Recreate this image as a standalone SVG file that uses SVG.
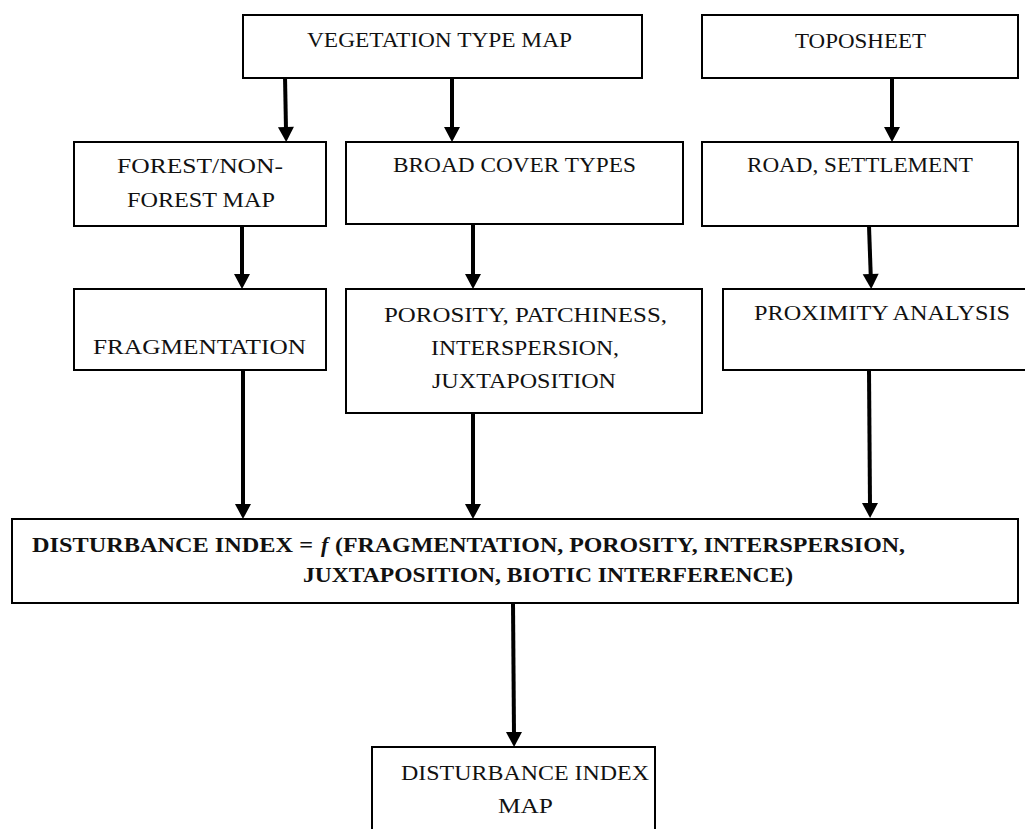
<svg xmlns="http://www.w3.org/2000/svg" width="1025" height="829" viewBox="0 0 1025 829">
<style>
.box{fill:#fff;stroke:#000;stroke-width:2}
.t{font-family:"Liberation Serif","Times New Roman",serif;font-size:21px;fill:#111}
.b{font-family:"Liberation Serif","Times New Roman",serif;font-size:22px;font-weight:bold;fill:#111}
.c{stroke:#000;stroke-width:4;fill:none;marker-end:url(#ah)}
</style>
<defs>
<marker id="ah" markerUnits="userSpaceOnUse" markerWidth="16" markerHeight="17" viewBox="0 -8.5 16 17" refX="3" refY="0" orient="auto" overflow="visible">
<path d="M0,-8 L15,0 L0,8 Z" fill="#000"/>
</marker>
</defs>
<rect width="1025" height="829" fill="#fff"/>
<g id="connectors">
<line class="c" x1="285" y1="76" x2="286" y2="130"/>
<line class="c" x1="452" y1="78" x2="452" y2="130"/>
<line class="c" x1="892" y1="78" x2="892" y2="130"/>
<line class="c" x1="242" y1="226" x2="242" y2="277"/>
<line class="c" x1="473" y1="224" x2="473" y2="277"/>
<line class="c" x1="869" y1="226" x2="870.8" y2="277"/>
<line class="c" x1="243" y1="370" x2="243" y2="507"/>
<line class="c" x1="473" y1="413" x2="473" y2="507"/>
<line class="c" x1="869" y1="370" x2="870" y2="506"/>
<line class="c" x1="513" y1="603" x2="514" y2="735"/>
</g>
<g id="veg">
<rect class="box" x="243" y="15" width="399" height="63"/>
<text class="t" x="307" y="47" textLength="265" lengthAdjust="spacingAndGlyphs">VEGETATION TYPE MAP</text>
</g>
<g id="topo">
<rect class="box" x="702" y="15" width="316" height="63"/>
<text class="t" x="795" y="48" textLength="131" lengthAdjust="spacingAndGlyphs">TOPOSHEET</text>
</g>
<g id="forest">
<rect class="box" x="74" y="142" width="252" height="84"/>
<text class="t" x="117" y="173" textLength="166" lengthAdjust="spacingAndGlyphs">FOREST/NON-</text>
<text class="t" x="127" y="207" textLength="148" lengthAdjust="spacingAndGlyphs">FOREST MAP</text>
</g>
<g id="broad">
<rect class="box" x="346" y="142" width="337" height="82"/>
<text class="t" x="393" y="172" textLength="243" lengthAdjust="spacingAndGlyphs">BROAD COVER TYPES</text>
</g>
<g id="road">
<rect class="box" x="702" y="142" width="316" height="84"/>
<text class="t" x="747" y="172" textLength="226" lengthAdjust="spacingAndGlyphs">ROAD, SETTLEMENT</text>
</g>
<g id="frag">
<rect class="box" x="74" y="289" width="252" height="81"/>
<text class="t" x="93" y="354" textLength="213" lengthAdjust="spacingAndGlyphs">FRAGMENTATION</text>
</g>
<g id="porosity">
<rect class="box" x="346" y="289" width="356" height="124"/>
<text class="t" x="384" y="322" textLength="283" lengthAdjust="spacingAndGlyphs">POROSITY, PATCHINESS,</text>
<text class="t" x="431" y="355" textLength="188" lengthAdjust="spacingAndGlyphs">INTERSPERSION,</text>
<text class="t" x="432" y="388" textLength="184" lengthAdjust="spacingAndGlyphs">JUXTAPOSITION</text>
</g>
<g id="proximity">
<rect class="box" x="723" y="289" width="312" height="81"/>
<text class="t" x="754" y="320" textLength="256" lengthAdjust="spacingAndGlyphs">PROXIMITY ANALYSIS</text>
</g>
<g id="di">
<rect class="box" x="12" y="519" width="1006" height="84"/>
<text class="b" x="32" y="552" textLength="281" lengthAdjust="spacingAndGlyphs">DISTURBANCE INDEX =</text>
<text class="b" x="321" y="552" font-style="italic" font-weight="normal">f</text>
<text class="b" x="335" y="552" textLength="570" lengthAdjust="spacingAndGlyphs">(FRAGMENTATION, POROSITY, INTERSPERSION,</text>
<text class="b" x="303" y="582" textLength="490" lengthAdjust="spacingAndGlyphs">JUXTAPOSITION, BIOTIC INTERFERENCE)</text>
</g>
<g id="dimap">
<rect class="box" x="372" y="747" width="283" height="95"/>
<text class="t" x="401" y="780" textLength="248" lengthAdjust="spacingAndGlyphs">DISTURBANCE INDEX</text>
<text class="t" x="498" y="813" textLength="55" lengthAdjust="spacingAndGlyphs">MAP</text>
</g>
</svg>
